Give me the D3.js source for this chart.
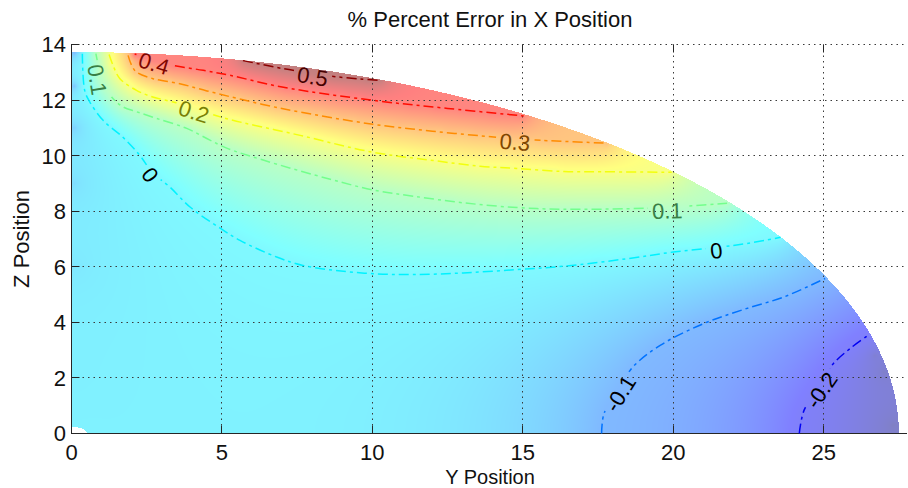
<!DOCTYPE html>
<html>
<head>
<meta charset="utf-8">
<script src="https://cdn.jsdelivr.net/npm/d3@7"></script>
<style>
  body { margin: 0; background: #fff; }
  svg { display: block; font-family: "Liberation Sans", Arial, Helvetica, sans-serif; }
</style>
</head>
<body>
<svg id="chart" width="908" height="488"></svg>
<script>
// ---------------- data ----------------
const titleText = "% Percent Error in X Position";
const xLabelText = "Y Position";
const yLabelText = "Z Position";
const xTicks = [0, 5, 10, 15, 20, 25];
const yTicks = [0, 2, 4, 6, 8, 10, 12, 14];
const xDomain = [0, 27.77];
const yDomain = [0, 14];
const ellipseAxes = [27.5, 13.73];      // outer boundary of the data region
const holeAxes = [0.52, 0.24];          // small empty corner at the origin
const colorRange = [-0.29, 0.51];       // colour limits of the surface
const levels = [-0.2, -0.1, 0, 0.1, 0.2, 0.3, 0.4, 0.5];

// traced contour lines, [Y position, Z position]
const contourM02 = [[24.19,0],[24.35,0.84],[24.84,1.62],[25.28,2.46],[25.88,3.06],[26.5,3.55]];
const contourM01 = [[17.62,0],[17.7,0.72],[18.15,1.5],[18.64,2.37],[19.58,3.18],[21.0,3.95],[22.3,4.45],[23.69,4.92],[25.05,5.58]];
const contour0 = [[0.36,13.67],[0.44,12.34],[0.61,11.93],[1.05,11.27],[1.71,10.66],[2.27,10.01],[2.7,9.38],[3.27,8.87],[3.94,8.15],[4.94,7.39],[5.6,6.95],[6.82,6.35],[7.69,6.05],[8.76,5.87],[10.03,5.75],[11.36,5.72],[13.02,5.78],[14.81,5.9],[16.35,6.02],[18.47,6.29],[20.0,6.53],[21.42,6.69],[22.46,6.84],[23.57,7.06]];
const contour01 = [[0.81,13.67],[0.886,13.25],[0.96,12.75],[1.385,12.05],[1.72,11.75],[2.16,11.58],[2.83,11.34],[3.83,10.98],[4.6,10.56],[5.16,10.27],[6.37,9.84],[8.6,9.15],[10.04,8.76],[11.37,8.54],[13.04,8.3],[14.82,8.13],[16.3,8.07],[18.46,8.09],[19.8,8.13],[20.34,8.17],[21.79,8.29]];
const contour02 = [[1.25,13.64],[1.38,13.25],[1.61,12.77],[2.16,12.35],[2.7,12.11],[3.38,11.93],[4.1,11.69],[5.16,11.33],[7.6,10.73],[10.03,10.12],[11.92,9.84],[13.58,9.62],[14.8,9.54],[16.37,9.43],[17.6,9.42],[19.95,9.4]];
const contour03 = [[1.88,13.61],[2.0,13.25],[2.16,13.01],[2.71,12.77],[3.6,12.59],[4.5,12.33],[6.93,11.71],[10.02,11.13],[12.0,10.88],[14.03,10.67],[14.75,10.6],[15.59,10.55],[17.75,10.45]];
const contour04 = [[2.1,13.66],[2.4,13.55],[2.77,13.43],[3.38,13.25],[4.38,13.07],[5.27,12.89],[7.0,12.47],[10.02,11.99],[12.5,11.7],[15.03,11.43]];
const contour05 = [[5.7,13.42],[7.04,13.13],[8.03,12.96],[8.71,12.85],[9.6,12.76],[10.26,12.71]];

const contourSet = [
  { level: -0.2, pts: contourM02 },
  { level: -0.1, pts: contourM01 },
  { level: 0,    pts: contour0 },
  { level: 0.1,  pts: contour01 },
  { level: 0.2,  pts: contour02 },
  { level: 0.3,  pts: contour03 },
  { level: 0.4,  pts: contour04 },
  { level: 0.5,  pts: contour05 }
];

// inline contour labels: level and approximate spot on its line
const labelSpots = [
  { level: 0.5, at: [8.03, 12.96] },
  { level: 0.4, at: [2.77, 13.43] },
  { level: 0.3, at: [14.75, 10.6] },
  { level: 0.2, at: [4.1, 11.69] },
  { level: 0.1, at: [0.96, 12.75] },
  { level: 0.1, at: [19.8, 8.13] },
  { level: 0,   at: [2.7, 9.38] },
  { level: 0,   at: [21.42, 6.69] },
  { level: -0.1, at: [18.15, 1.5] },
  { level: -0.2, at: [24.84, 1.62] }
];

const surfaceAnchors = [
  [7.5, 13.17, 0.51], [8.6, 13.0, 0.515], [9.5, 12.84, 0.51],
  [27.3, 0.3, -0.285], [27.0, 2.2, -0.275], [26.7, 2.8, -0.26],
  [0.05, 13.65, -0.095], [0.05, 12.5, -0.08], [0.05, 11.0, -0.065],
  [0.05, 9.0, -0.045], [0.05, 6.0, -0.03], [0.05, 2.0, -0.015], [0.6, 0.05, -0.01]
];

// ---------------- helpers ----------------
function jet(v) {
  const t = Math.max(0, Math.min(1, (v - colorRange[0]) / (colorRange[1] - colorRange[0])));
  const f = u => Math.max(0, Math.min(1, 1.5 - Math.abs(4 * t - u)));
  return [f(3), f(2), f(1)];
}

// smooth surface through the traced lines (harmonic fill, coarse to fine)
function solveLevel(h, prev, iters) {
  const [A, B] = ellipseAxes;
  const nx = Math.ceil(A / h) + 3, nz = Math.ceil(B / h) + 3;
  const N = nx * nz;
  const val = new Float64Array(N), act = new Uint8Array(N), fix = new Uint8Array(N);
  for (let j = 0; j < nz; j++) for (let i = 0; i < nx; i++) {
    const px = i * h, pz = j * h, k = j * nx + i;
    const e = (px / (A + 1.6 * h)) ** 2 + (pz / (B + 1.6 * h)) ** 2;
    act[k] = e <= 1 ? 1 : 0;
    val[k] = prev ? sampleField(prev, px, pz) : 0;
  }
  const setFix = (px, pz, v) => {
    const i = Math.round(px / h), j = Math.round(pz / h);
    if (i < 0 || j < 0 || i >= nx || j >= nz) return;
    const k = j * nx + i;
    if (!act[k]) return;
    fix[k] = 1; val[k] = v;
  };
  contourSet.forEach(c => {
    for (let s = 0; s < c.pts.length - 1; s++) {
      const [x0, z0] = c.pts[s], [x1, z1] = c.pts[s + 1];
      const n = Math.max(1, Math.ceil(Math.hypot(x1 - x0, z1 - z0) / (h / 3)));
      for (let q = 0; q <= n; q++) setFix(x0 + (x1 - x0) * q / n, z0 + (z1 - z0) * q / n, c.level);
    }
  });
  surfaceAnchors.forEach(a => setFix(a[0], a[1], a[2]));
  const w = 1.85;
  for (let it = 0; it < iters; it++) {
    for (let j = 0; j < nz; j++) for (let i = 0; i < nx; i++) {
      const k = j * nx + i;
      if (!act[k] || fix[k]) continue;
      let s = 0, c = 0;
      if (i > 0 && act[k - 1]) { s += val[k - 1]; c++; }
      if (i < nx - 1 && act[k + 1]) { s += val[k + 1]; c++; }
      if (j > 0 && act[k - nx]) { s += val[k - nx]; c++; }
      if (j < nz - 1 && act[k + nx]) { s += val[k + nx]; c++; }
      if (c) val[k] += w * (s / c - val[k]);
    }
  }
  return { h, nx, nz, val };
}
function sampleField(F, px, pz) {
  const fx = px / F.h, fz = pz / F.h;
  let i = Math.floor(fx), j = Math.floor(fz);
  i = Math.max(0, Math.min(F.nx - 2, i)); j = Math.max(0, Math.min(F.nz - 2, j));
  const tx = Math.max(0, Math.min(1, fx - i)), tz = Math.max(0, Math.min(1, fz - j));
  const k = j * F.nx + i, v = F.val;
  return (v[k] * (1 - tx) + v[k + 1] * tx) * (1 - tz) + (v[k + F.nx] * (1 - tx) + v[k + F.nx + 1] * tx) * tz;
}
let field = null;
[[0.8, 800], [0.4, 500], [0.2, 350], [0.1, 300]].forEach(([h, n]) => { field = solveLevel(h, field, n); });

// ---------------- drawing ----------------
const svg = d3.select("#chart");
const x = d3.scaleLinear().domain(xDomain).range([71.5, 907]);
const y = d3.scaleLinear().domain(yDomain).range([433.5, 44.5]);
const defs = svg.append("defs");

// shaded surface (50% transparent jet over white)
{
  const cx0 = 71, cy0 = 44, W = 836, H = 390;
  const canvas = document.createElement("canvas");
  canvas.width = W; canvas.height = H;
  const ctx = canvas.getContext("2d");
  const img = ctx.createImageData(W, H);
  const [A, B] = ellipseAxes, [ha, hb] = holeAxes;
  for (let r = 0; r < H; r++) {
    for (let c = 0; c < W; c++) {
      const dx = x.invert(cx0 + c + 0.5), dz = y.invert(cy0 + r + 0.5);
      if (dx < -1e-9 || dz < -1e-9) continue;
      if ((dx / A) ** 2 + (dz / B) ** 2 > 1) continue;
      if ((dx / ha) ** 2 + (dz / hb) ** 2 < 1) continue;
      const v = sampleField(field, Math.max(0, dx), Math.max(0, dz));
      const col = jet(v);
      const o = (r * W + c) * 4;
      img.data[o] = Math.round(127.5 + 127.5 * col[0]);
      img.data[o + 1] = Math.round(127.5 + 127.5 * col[1]);
      img.data[o + 2] = Math.round(127.5 + 127.5 * col[2]);
      img.data[o + 3] = 255;
    }
  }
  ctx.putImageData(img, 0, 0);
  svg.append("image").attr("x", cx0).attr("y", cy0).attr("width", W).attr("height", H)
    .attr("href", canvas.toDataURL());
}

// grid
const snap = v => Math.round(v - 0.5) + 0.5;
const grid = svg.append("g").attr("stroke", "#3a3a3a").attr("stroke-width", 1)
  .attr("stroke-dasharray", "1.5,4").attr("fill", "none");
xTicks.filter(t => t > 0).forEach(t => {
  grid.append("line").attr("x1", snap(x(t))).attr("x2", snap(x(t))).attr("y1", y(14)).attr("y2", y(0));
});
yTicks.filter(t => t > 0).forEach(t => {
  grid.append("line").attr("x1", x(0)).attr("x2", 907).attr("y1", snap(y(t))).attr("y2", snap(y(t)));
});

// axes lines & ticks
const axisG = svg.append("g").attr("stroke", "#262626").attr("stroke-width", 1).attr("fill", "none");
axisG.append("line").attr("x1", x(0)).attr("x2", x(0)).attr("y1", y(14) - 0.5).attr("y2", y(0) + 0.5);
axisG.append("line").attr("x1", x(0) - 0.5).attr("x2", 907).attr("y1", y(0)).attr("y2", y(0));
xTicks.forEach(t => {
  axisG.append("line").attr("x1", snap(x(t))).attr("x2", snap(x(t))).attr("y1", y(0)).attr("y2", y(0) - 8);
  axisG.append("line").attr("x1", snap(x(t))).attr("x2", snap(x(t))).attr("y1", y(14)).attr("y2", y(14) + 8);
});
yTicks.forEach(t => {
  axisG.append("line").attr("x1", x(0)).attr("x2", x(0) + 8).attr("y1", snap(y(t))).attr("y2", snap(y(t)));
});

// tick labels
const tickFont = 22;
svg.append("g").selectAll("text").data(xTicks).join("text")
  .attr("x", d => x(d)).attr("y", 460).attr("text-anchor", "middle")
  .attr("font-size", tickFont).attr("fill", "#111").text(d => String(d));
svg.append("g").selectAll("text").data(yTicks).join("text")
  .attr("x", 66).attr("y", d => y(d)).attr("dy", "0.36em").attr("text-anchor", "end")
  .attr("font-size", tickFont).attr("fill", "#111").text(d => String(d));

// contour label geometry
function snapToLine(pts, at) {
  const P = pts.map(p => [x(p[0]), y(p[1])]);
  const q = [x(at[0]), y(at[1])];
  let best = null;
  for (let s = 0; s < P.length - 1; s++) {
    const [ax, ay] = P[s], [bx, by] = P[s + 1];
    const vx = bx - ax, vy = by - ay, L2 = vx * vx + vy * vy;
    let t = L2 ? ((q[0] - ax) * vx + (q[1] - ay) * vy) / L2 : 0;
    t = Math.max(0, Math.min(1, t));
    const px = ax + vx * t, py = ay + vy * t;
    const d = Math.hypot(px - q[0], py - q[1]);
    if (!best || d < best.d) {
      let ang = Math.atan2(vy, vx) * 180 / Math.PI;
      if (ang > 90) ang -= 180;
      if (ang <= -90) ang += 180;
      best = { d, px, py, ang };
    }
  }
  return best;
}
const labelFont = 22;
const mask = defs.append("mask").attr("id", "lblMask").attr("maskUnits", "userSpaceOnUse")
  .attr("x", 0).attr("y", 0).attr("width", 908).attr("height", 488);
mask.append("rect").attr("width", 908).attr("height", 488).attr("fill", "white");

// contour lines
const lineGen = d3.line().x(d => x(d[0])).y(d => y(d[1])).curve(d3.curveCatmullRom.alpha(0.5));
svg.append("g").attr("mask", "url(#lblMask)").selectAll("path").data(contourSet).join("path")
  .attr("d", d => lineGen(d.pts))
  .attr("fill", "none")
  .attr("stroke", d => { const c = jet(d.level); return d3.rgb(c[0] * 255, c[1] * 255, c[2] * 255).toString(); })
  .attr("stroke-width", 1.5)
  .attr("stroke-dasharray", "10,4,3,4");

// labels
const lblG = svg.append("g");
labelSpots.forEach(L => {
  const c = contourSet.find(cc => Math.abs(cc.level - L.level) < 1e-9);
  const g = snapToLine(c.pts, L.at);
  let fill = "#000";
  if (L.level > 0) {
    const col = jet(L.level);
    fill = d3.rgb(col[0] * 127, col[1] * 127, col[2] * 127).toString();
  }
  const grp = lblG.append("g").attr("transform", `translate(${g.px},${g.py}) rotate(${g.ang})`);
  const txt = grp.append("text").attr("x", 0).attr("y", 3).attr("dy", "0.36em")
    .attr("text-anchor", "middle").attr("font-size", labelFont).attr("fill", fill)
    .text(String(L.level));
  const wTxt = txt.node().getComputedTextLength();
  mask.append("rect").attr("x", -wTxt / 2 - 4).attr("y", -9).attr("width", wTxt + 8).attr("height", 18)
    .attr("fill", "black").attr("transform", `translate(${g.px},${g.py}) rotate(${g.ang})`);
});

// title and axis labels
svg.append("text").attr("x", 490).attr("y", 27).attr("text-anchor", "middle")
  .attr("font-size", 22).attr("fill", "#111").text(titleText);
svg.append("text").attr("x", 490).attr("y", 483.7).attr("text-anchor", "middle")
  .attr("font-size", 20).attr("fill", "#111").text(xLabelText);
svg.append("text").attr("transform", `translate(29,${(y(0) + y(14)) / 2}) rotate(-90)`)
  .attr("text-anchor", "middle").attr("font-size", 22).attr("fill", "#111").text(yLabelText);
</script>
</body>
</html>
